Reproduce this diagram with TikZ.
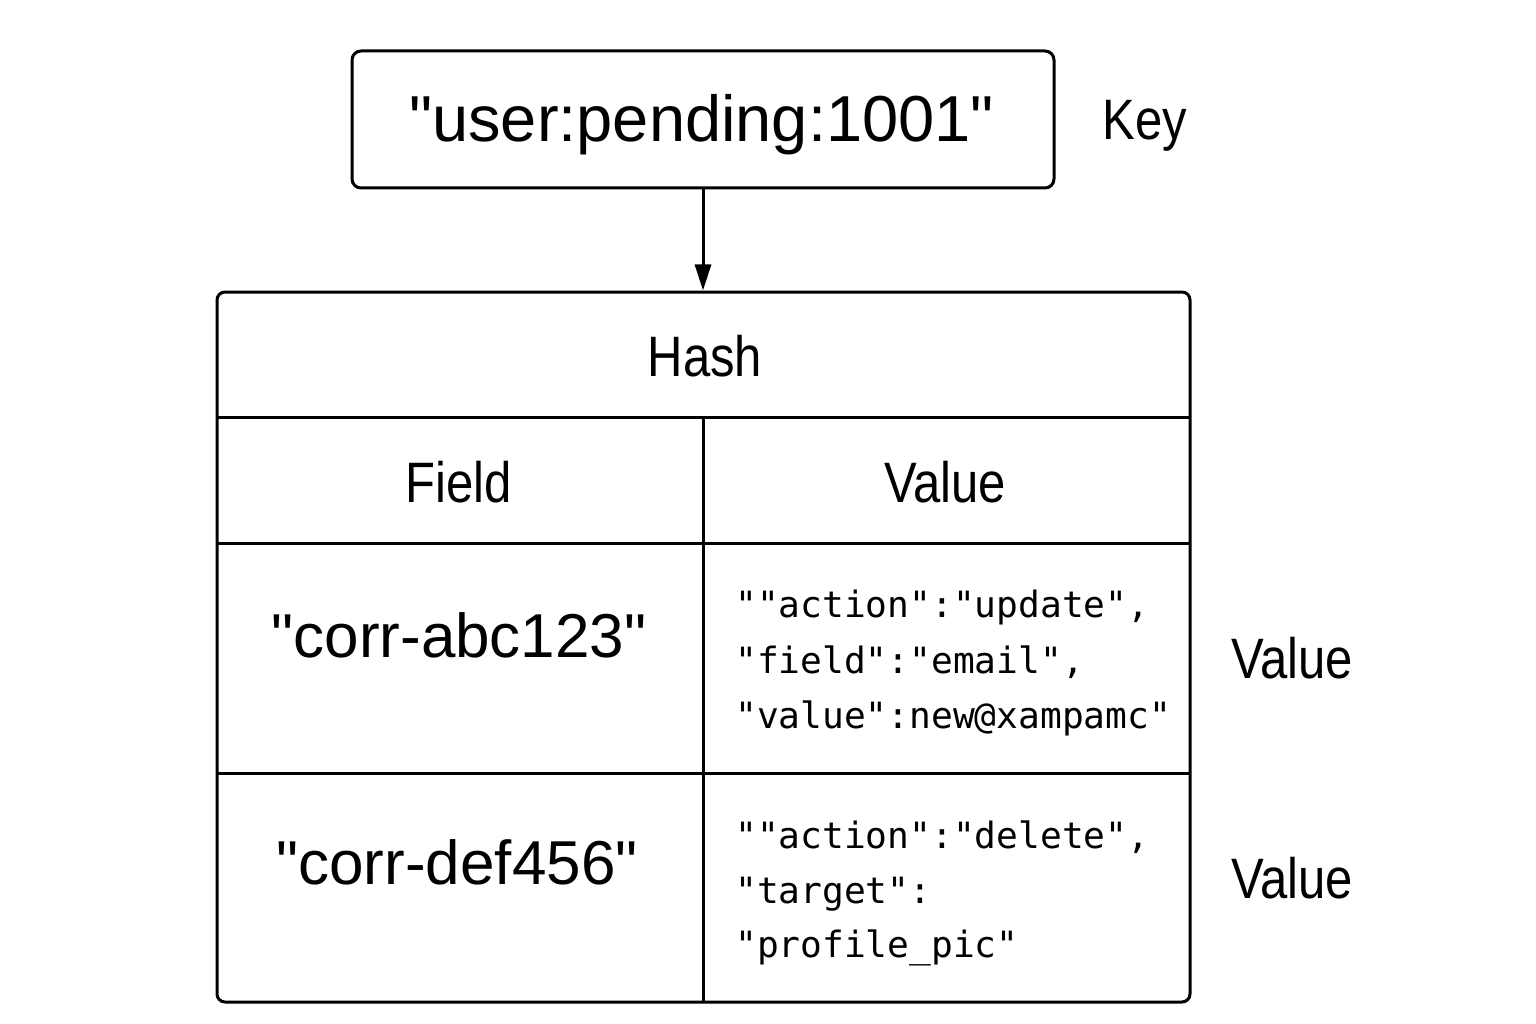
\documentclass[tikz,border=0pt]{standalone}
\usepackage{fontspec}
\setmainfont{Liberation Sans}
\newfontfamily\plainsans{Liberation Sans}
\newfontfamily\condsans[FakeStretch=0.86]{Liberation Sans}
\newfontfamily\monofont{DejaVu Sans Mono}
\usetikzlibrary{arrows.meta}
\tikzset{
  box/.style={draw, line width=3pt, rounded corners=9pt, inner sep=0pt},
  rule/.style={line width=3pt},
  bigtxt/.style={anchor=base, inner sep=0pt},
  lbltxt/.style={anchor=base, inner sep=0pt, font=\condsans\fontsize{57}{68}\selectfont},
  codetxt/.style={anchor=base west, inner sep=0pt, font=\monofont\fontsize{36.2}{55}\selectfont},
  arr/.style={line width=3pt, -{Triangle[length=26pt,width=16pt]}}
}
\begin{document}
\begin{tikzpicture}[x=1pt,y=-1pt]
\useasboundingbox (0,0) rectangle (1536,1024);
% key box
\node[box, minimum width=702pt, minimum height=137pt] (key) at (703,119.5) {};
\node[bigtxt, font=\plainsans\fontsize{65}{78}\selectfont] (keytxt) at (701.5,142) {"user:pending:1001"};
\node[lbltxt] (keylbl) at (1145,140) {Key};
% table
\node[box, rounded corners=8pt, minimum width=973pt, minimum height=710pt] (tbl) at (703.5,647) {};
\coordinate (l1) at (217,417); \coordinate (r1) at (1190,417);
\coordinate (l2) at (217,543); \coordinate (r2) at (1190,543);
\coordinate (l3) at (217,773); \coordinate (r3) at (1190,773);
\coordinate (vt) at (703,417); \coordinate (vb) at (703,1002);
\draw[rule] (l1) -- (r1);
\draw[rule] (l2) -- (r2);
\draw[rule] (l3) -- (r3);
\draw[rule] (vt) -- (vb);
% arrow
\draw[arr] (key.south) -- (key.south |- tbl.north);
% headers
\node[lbltxt] (hash) at (705,376) {Hash};
\node[lbltxt] (field) at (459,502) {Field};
\node[lbltxt] (value) at (945,502) {Value};
% fields
\node[bigtxt, font=\plainsans\fontsize{62}{74}\selectfont] (f1) at (459,657) {"corr-abc123"};
\node[bigtxt, font=\plainsans\fontsize{62}{74}\selectfont] (f2) at (457,884) {"corr-def456"};
% values
\node[codetxt] (v1a) at (735,617) {""action":"update",};
\node[codetxt] (v1b) at (735,673) {"field":"email",};
\node[codetxt] (v1c) at (735,728) {"value":new@xampamc"};
\node[codetxt] (v2a) at (735,848) {""action":"delete",};
\node[codetxt] (v2b) at (735,903) {"target":};
\node[codetxt] (v2c) at (735,957) {"profile\_pic"};
% right labels
\node[lbltxt] (val1) at (1292,678) {Value};
\node[lbltxt] (val2) at (1292,898) {Value};
\end{tikzpicture}
\end{document}
